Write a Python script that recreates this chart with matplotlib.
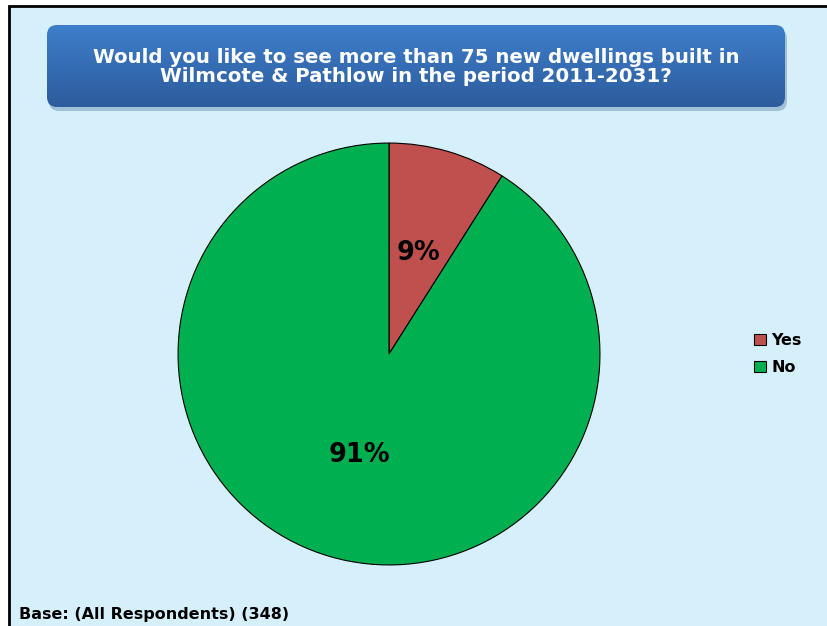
import numpy as np
import matplotlib.pyplot as plt
from matplotlib.patches import FancyBboxPatch, Rectangle

# Survey answers
reponses = ["Yes", "No"]
pourcentages = [9, 91]
couleurs = ["#C0504D", "#00B050"]
titre = "Would you like to see more than 75 new dwellings built in\nWilmcote & Pathlow in the period 2011-2031?"
base = "Base: (All Respondents) (348)"

W, H = 827, 626
FOND = "#D5F0FA"

fig = plt.figure(figsize=(W / 100, H / 100), dpi=100)
fig.patch.set_facecolor("white")

def fx(px):
    return px / W

def fy(py):
    return 1 - py / H

# Chart area with black frame (only left and top edges show)
zone = Rectangle((fx(9), -0.05), 1.0, fy(6) + 0.05, transform=fig.transFigure,
                 facecolor=FOND, edgecolor="black", linewidth=2, zorder=0)
fig.patches.append(zone)

# Title box: shadow then gradient-filled rounded rectangle
ax_t = fig.add_axes([0, 0, 1, 1], zorder=1)
ax_t.set_xlim(0, W)
ax_t.set_ylim(H, 0)
ax_t.axis("off")
x0, y0, x1, y1 = 47, 25, 785, 107
ombre = FancyBboxPatch((x0 + 2, y0 + 4), x1 - x0, y1 - y0,
                       boxstyle="round,pad=0,rounding_size=10",
                       facecolor="#7fa0bf", edgecolor="none", alpha=0.6)
ax_t.add_patch(ombre)
boite = FancyBboxPatch((x0, y0), x1 - x0, y1 - y0,
                       boxstyle="round,pad=0,rounding_size=10",
                       facecolor="none", edgecolor="none")
ax_t.add_patch(boite)
degrade = np.linspace(0, 1, 100).reshape(-1, 1)
haut = np.array([0x3E, 0x7E, 0xCC]) / 255
bas = np.array([0x2D, 0x5C, 0x9C]) / 255
img = haut + (bas - haut) * degrade[:, :, None]
im = ax_t.imshow(img, extent=(x0, x1, y1, y0), aspect="auto", zorder=2)
im.set_clip_path(boite)
ax_t.text((x0 + x1) / 2, 67, titre, ha="center", va="center", color="white",
          fontsize=14.2, fontweight="bold", linespacing=1.02, zorder=3)

# Pie
cx, cy, r = 389, 354, 212
ax = fig.add_axes([fx(cx - r), fy(cy + r), (2 * r) / W, (2 * r) / H], zorder=2)
parts, textes = ax.pie(pourcentages, colors=couleurs, startangle=90, counterclock=False,
                       wedgeprops=dict(edgecolor="black", linewidth=0.8), radius=1)[:2]
for p, t in zip(pourcentages, parts):
    theta = np.deg2rad((t.theta1 + t.theta2) / 2)
    ax.text(0.5 * np.cos(theta), 0.5 * np.sin(theta), f"{p}%", ha="center", va="center",
            fontsize=18.5, fontweight="bold")
ax.set_xlim(-1.005, 1.005)
ax.set_ylim(-1.005, 1.005)
ax.axis("off")

# Legend
leg = fig.legend(parts, reponses, loc="center left", bbox_to_anchor=(fx(740), fy(354)),
                 frameon=False, handlelength=0.75, handleheight=0.75, handletextpad=0.3,
                 labelspacing=0.75, prop=dict(size=11.5, weight="bold"))
for h in leg.legend_handles:
    h.set_edgecolor("black")
    h.set_linewidth(0.8)

fig.text(fx(19), fy(614), base, ha="left", va="center", fontsize=11.5, fontweight="bold")

fig.savefig("out.png", dpi=100, facecolor=fig.get_facecolor())
